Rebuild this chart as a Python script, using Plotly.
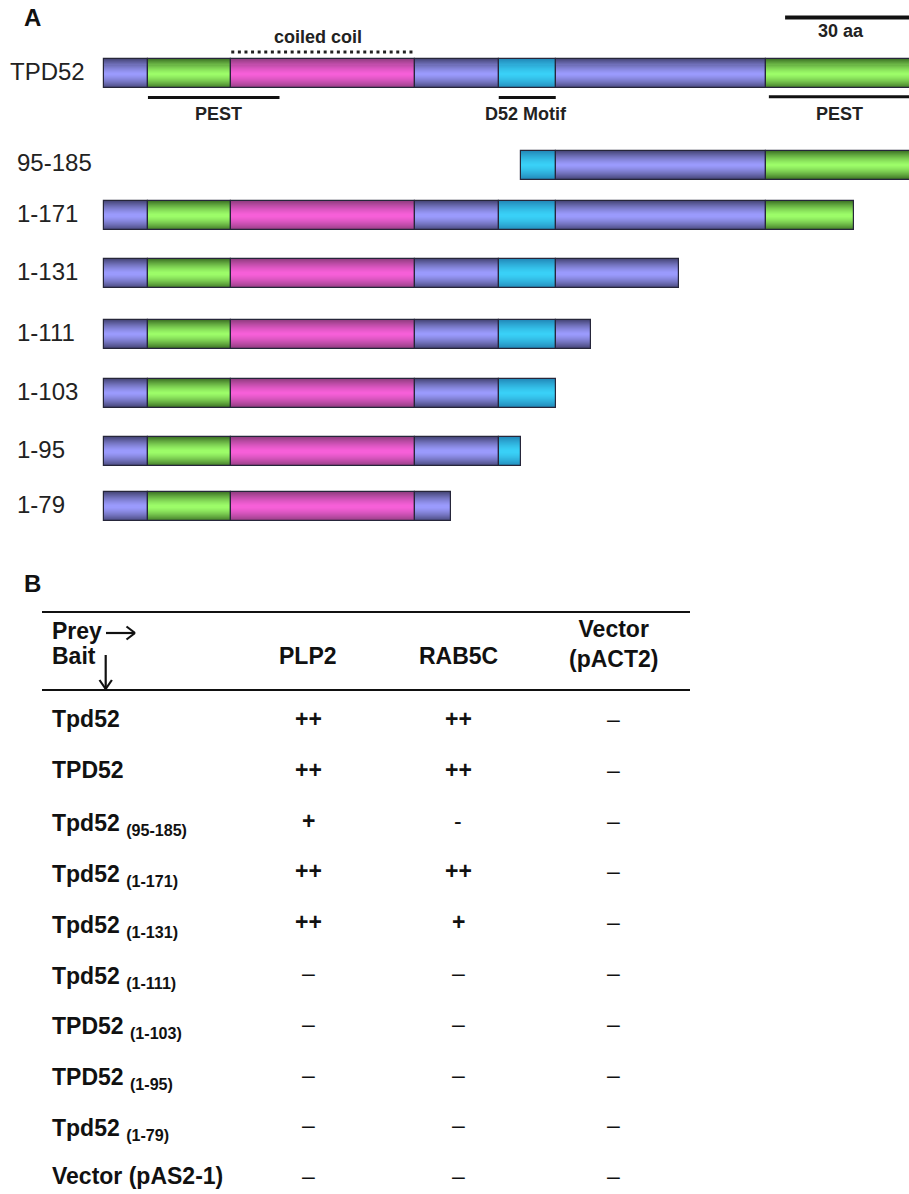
import plotly.graph_objects as go

# ---------------- Panel A: TPD52 domain map and deletion constructs ----------------
# Domains of full-length TPD52, as residue boundaries along the sequence axis
domain_names = ["N-terminal", "PEST", "coiled coil", "linker", "D52 motif", "central", "PEST"]
domain_start = [0, 10, 29, 71, 90, 103, 151]
domain_end = [10, 29, 71, 90, 103, 151, 185]
domain_kind = ["blue", "green", "pink", "blue", "cyan", "blue", "green"]

# Constructs (boundaries along the same residue axis)
construct_labels = ["TPD52", "95-185", "1-171", "1-131", "1-111", "1-103", "1-95", "1-79"]
construct_from = [0, 95, 0, 0, 0, 0, 0, 0]
construct_to = [185, 185, 171, 131, 111, 103, 95, 79]

# Feature annotations drawn under / over the full-length bar
feature_labels = ["coiled coil", "PEST", "D52 Motif", "PEST"]
feature_from = [29, 10, 90, 151.6]
feature_to = [71, 40, 103, 190]

scale_bar_aa = 30

# ---------------- Panel B: yeast two-hybrid results ----------------
bait_labels = [
    "Tpd52",
    "TPD52",
    "Tpd52 <sub>(95-185)</sub>",
    "Tpd52 <sub>(1-171)</sub>",
    "Tpd52 <sub>(1-131)</sub>",
    "Tpd52 <sub>(1-111)</sub>",
    "TPD52 <sub>(1-103)</sub>",
    "TPD52 <sub>(1-95)</sub>",
    "Tpd52 <sub>(1-79)</sub>",
    "Vector (pAS2-1)",
]
prey_labels = ["PLP2", "RAB5C", "Vector<br>(pACT2)"]
plp2_result = ["++", "++", "+", "++", "++", "–", "–", "–", "–", "–"]
rab5c_result = ["++", "++", "-", "++", "+", "–", "–", "–", "–", "–"]
vector_result = ["–", "–", "–", "–", "–", "–", "–", "–", "–", "–"]

# ---------------- geometry ----------------
W, H = 909, 1194
PX_PER_AA = 4.385
X0_PX = 104.1
BAR_H = 29
row_y = [73.8, 165, 215.5, 273.5, 334, 393, 451.5, 506.5]

FONT = "Liberation Sans, Arial, Helvetica, sans-serif"

palette = {
    "blue": ("#9c9cff", "#4a4a7e"),
    "green": ("#9eff6a", "#427a28"),
    "pink": ("#f860da", "#963e85"),
    "cyan": ("#3ad2f8", "#238cbc"),
}


def hex_rgb(h):
    h = h.lstrip("#")
    return tuple(int(h[i:i + 2], 16) for i in (0, 2, 4))


def mix(c1, c2, t):
    a, b = hex_rgb(c1), hex_rgb(c2)
    return "rgb({},{},{})".format(*[round(a[i] + (b[i] - a[i]) * t) for i in range(3)])


def px(x):
    return x / W


def py(y):
    return 1 - y / H


# Split each construct into the domains it contains
seg_y, seg_base, seg_len, seg_kind = [], [], [], []
for i in range(len(construct_labels)):
    for j in range(len(domain_start)):
        s = max(domain_start[j], construct_from[i])
        e = min(domain_end[j], construct_to[i])
        if e > s:
            seg_y.append(row_y[i])
            seg_base.append(s)
            seg_len.append(e - s)
            seg_kind.append(domain_kind[j])

fig = go.Figure()

# Shaded bars: stacked overlay layers from the dark rim to the bright centre
N_LAYERS = 14
for k in range(N_LAYERS):
    h = 1 - k / N_LAYERS
    colors = [mix(palette[c][0], palette[c][1], h ** 1.4) for c in seg_kind]
    fig.add_trace(go.Bar(
        y=seg_y, x=seg_len, base=seg_base, orientation="h",
        width=BAR_H * h,
        marker=dict(color=colors, line=dict(width=0)),
        hoverinfo="skip", showlegend=False,
    ))

# Segment outlines
fig.add_trace(go.Bar(
    y=seg_y, x=seg_len, base=seg_base, orientation="h", width=BAR_H,
    marker=dict(color="rgba(0,0,0,0)", line=dict(color="#26263a", width=1.2)),
    hoverinfo="skip", showlegend=False,
))

annotations = []
shapes = []


def note(x, y, text, size, anchor="left", color="#111"):
    annotations.append(dict(x=px(x), y=py(y), xref="paper", yref="paper", text=text,
                            xanchor=anchor, yanchor="middle", showarrow=False,
                            font=dict(size=size, color=color, family=FONT)))


# Panel letters
note(22, 18, "<b>A</b>", 24)
note(22, 583, "<b>B</b>", 24)

# Construct labels
for i, lab in enumerate(construct_labels):
    note(8 if i == 0 else 15, row_y[i] - 2, lab, 24, color="#222")

# Coiled-coil dotted line and label
shapes.append(dict(type="line", xref="x", yref="y", x0=feature_from[0], x1=feature_to[0],
                   y0=52, y1=52, line=dict(color="#222", width=3, dash="3px,3.6px")))
note(318, 37, "<b>coiled coil</b>", 18, anchor="center", color="#222")

# Underlined features
under_y = [97.5, 97.5, 96.8]
label_x = [218, 526, 839]
for n, k in enumerate([1, 2, 3]):
    shapes.append(dict(type="line", xref="x", yref="y", x0=feature_from[k], x1=feature_to[k],
                       y0=under_y[n], y1=under_y[n], line=dict(color="#111", width=3)))
    note(label_x[n], 114, "<b>" + feature_labels[k] + "</b>", 18, anchor="center", color="#222")

# Scale bar
SCALE_X0 = 155.3
shapes.append(dict(type="line", xref="x", yref="y", x0=SCALE_X0, x1=SCALE_X0 + scale_bar_aa,
                   y0=17.5, y1=17.5, line=dict(color="#111", width=4)))
note(841, 31, "<b>%d aa</b>" % scale_bar_aa, 18, anchor="center", color="#222")

# ---------------- table ----------------
TSIZE = 23
for yy in (612, 690):
    shapes.append(dict(type="line", xref="paper", yref="paper", x0=px(42), x1=px(690),
                       y0=py(yy), y1=py(yy), line=dict(color="#111", width=2.2)))

note(50, 631, "<b>Prey</b>", TSIZE)
note(50, 656, "<b>Bait</b>", TSIZE)


def seg(x0, y0, x1, y1, w=2.2):
    shapes.append(dict(type="line", xref="paper", yref="paper", x0=px(x0), x1=px(x1),
                       y0=py(y0), y1=py(y1), line=dict(color="#111", width=w)))


# right arrow after "Prey"
seg(106, 633, 135, 633)
seg(135, 633, 126.5, 626.5)
seg(135, 633, 126.5, 639.5)
# down arrow under "Bait"
seg(105.7, 655, 105.7, 689)
seg(105.7, 689, 99.5, 680)
seg(105.7, 689, 111.9, 680)

col_x = [308, 458, 613]
note(col_x[0], 656, "<b>" + prey_labels[0] + "</b>", TSIZE, anchor="center")
note(col_x[1], 656, "<b>" + prey_labels[1] + "</b>", TSIZE, anchor="center")
note(col_x[2], 644, "<b>" + prey_labels[2] + "</b>", TSIZE, anchor="center")


def cell(v):
    # plus signs are set bold, the negative dashes in regular weight
    return "<b>" + v + "</b>" if "+" in v else v


for r, lab in enumerate(bait_labels):
    yy = 719 + 50.8 * r
    note(50, yy + 4 if "<sub>" in lab else yy, "<b>" + lab + "</b>", TSIZE)
    for c, vals in enumerate([plp2_result, rab5c_result, vector_result]):
        note(col_x[c], yy, cell(vals[r]), TSIZE, anchor="center")

fig.update_layout(
    width=W, height=H,
    margin=dict(l=0, r=0, t=0, b=0),
    paper_bgcolor="white", plot_bgcolor="white",
    barmode="overlay", bargap=0,
    xaxis=dict(range=[-X0_PX / PX_PER_AA, (W - X0_PX) / PX_PER_AA], visible=False, fixedrange=True),
    yaxis=dict(range=[H, 0], visible=False, fixedrange=True),
    annotations=annotations,
    shapes=shapes,
    showlegend=False,
)

fig.write_html("out.html")
